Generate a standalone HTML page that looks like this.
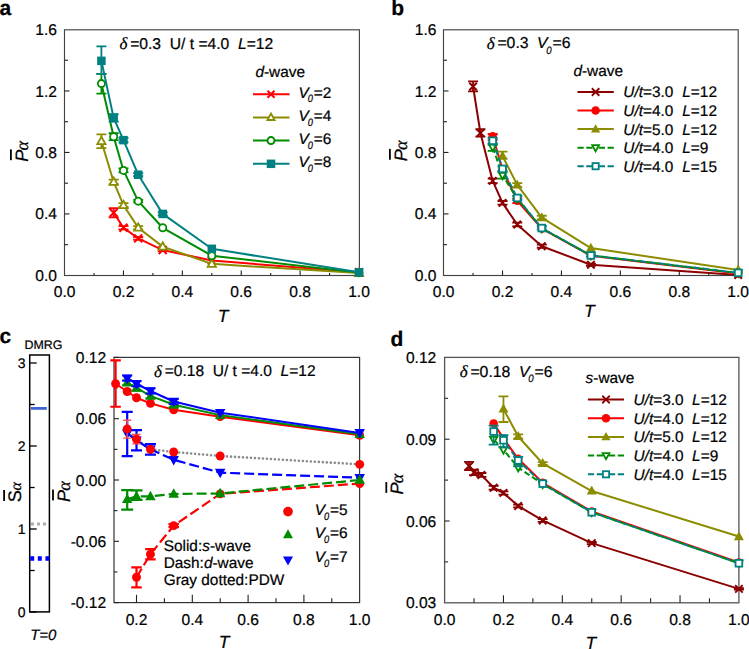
<!DOCTYPE html>
<html><head><meta charset="utf-8"><style>
html,body{margin:0;padding:0;background:#fff;overflow:hidden;}
svg{display:block;font-family:"Liberation Sans", sans-serif;text-rendering:geometricPrecision;}
text{white-space:pre;stroke:#000;stroke-width:0.22px;}
</style></head><body><domain style="display:none">Chart</domain>
<svg width="749" height="649" viewBox="0 0 749 649">
<rect x="64.5" y="29.8" width="294.90" height="245.70" fill="none" stroke="#444" stroke-width="1.15"/><line x1="123.48" y1="275.4" x2="123.48" y2="270.4" stroke="#222" stroke-width="1.1"/><line x1="182.36" y1="275.4" x2="182.36" y2="270.4" stroke="#222" stroke-width="1.1"/><line x1="241.24" y1="275.4" x2="241.24" y2="270.4" stroke="#222" stroke-width="1.1"/><line x1="300.12" y1="275.4" x2="300.12" y2="270.4" stroke="#222" stroke-width="1.1"/><line x1="94.04" y1="275.4" x2="94.04" y2="272.9" stroke="#222" stroke-width="1.1"/><line x1="152.92" y1="275.4" x2="152.92" y2="272.9" stroke="#222" stroke-width="1.1"/><line x1="211.80" y1="275.4" x2="211.80" y2="272.9" stroke="#222" stroke-width="1.1"/><line x1="270.68" y1="275.4" x2="270.68" y2="272.9" stroke="#222" stroke-width="1.1"/><line x1="329.56" y1="275.4" x2="329.56" y2="272.9" stroke="#222" stroke-width="1.1"/><line x1="64.5" y1="213.92" x2="69.5" y2="213.92" stroke="#222" stroke-width="1.1"/><line x1="64.5" y1="152.45" x2="69.5" y2="152.45" stroke="#222" stroke-width="1.1"/><line x1="64.5" y1="90.97" x2="69.5" y2="90.97" stroke="#222" stroke-width="1.1"/><line x1="64.5" y1="244.66" x2="68.0" y2="244.66" stroke="#222" stroke-width="1.1"/><line x1="64.5" y1="183.19" x2="68.0" y2="183.19" stroke="#222" stroke-width="1.1"/><line x1="64.5" y1="121.71" x2="68.0" y2="121.71" stroke="#222" stroke-width="1.1"/><line x1="64.5" y1="60.23" x2="68.0" y2="60.23" stroke="#222" stroke-width="1.1"/><text x="64.6" y="297.2" font-size="15.6" text-anchor="middle">0.0</text><text x="123.5" y="297.2" font-size="15.6" text-anchor="middle">0.2</text><text x="182.4" y="297.2" font-size="15.6" text-anchor="middle">0.4</text><text x="241.2" y="297.2" font-size="15.6" text-anchor="middle">0.6</text><text x="300.1" y="297.2" font-size="15.6" text-anchor="middle">0.8</text><text x="359.0" y="297.2" font-size="15.6" text-anchor="middle">1.0</text><text x="57.0" y="280.9" font-size="15.6" text-anchor="end">0.0</text><text x="57.0" y="219.4" font-size="15.6" text-anchor="end">0.4</text><text x="57.0" y="157.9" font-size="15.6" text-anchor="end">0.8</text><text x="57.0" y="96.5" font-size="15.6" text-anchor="end">1.2</text><text x="57.0" y="35.0" font-size="15.6" text-anchor="end">1.6</text><polyline points="113.67,212.69 123.48,227.76 138.20,238.36 162.73,250.04 211.80,260.49 359.00,272.33" fill="none" stroke="#ff0000" stroke-width="2.0" stroke-linejoin="round"/><path d="M113.67,208.08L113.67,217.31M108.67,208.08L118.67,208.08M108.67,217.31L118.67,217.31" stroke="#ff0000" stroke-width="1.8" fill="none"/><path d="M123.48,226.22L123.48,229.29M118.48,226.22L128.48,226.22M118.48,229.29L128.48,229.29" stroke="#ff0000" stroke-width="1.8" fill="none"/><path d="M138.20,236.98L138.20,239.74M133.20,236.98L143.20,236.98M133.20,239.74L143.20,239.74" stroke="#ff0000" stroke-width="1.8" fill="none"/><path d="M162.73,248.97L162.73,251.12M157.73,248.97L167.73,248.97M157.73,251.12L167.73,251.12" stroke="#ff0000" stroke-width="1.8" fill="none"/><path d="M109.67,208.69L117.67,216.69M109.67,216.69L117.67,208.69" stroke="#ff0000" stroke-width="2" fill="none"/><path d="M119.48,223.76L127.48,231.76M119.48,231.76L127.48,223.76" stroke="#ff0000" stroke-width="2" fill="none"/><path d="M134.20,234.36L142.20,242.36M134.20,242.36L142.20,234.36" stroke="#ff0000" stroke-width="2" fill="none"/><path d="M158.73,246.04L166.73,254.04M158.73,254.04L166.73,246.04" stroke="#ff0000" stroke-width="2" fill="none"/><path d="M207.80,256.49L215.80,264.49M207.80,264.49L215.80,256.49" stroke="#ff0000" stroke-width="2" fill="none"/><path d="M355.00,268.33L363.00,276.33M355.00,276.33L363.00,268.33" stroke="#ff0000" stroke-width="2" fill="none"/><polyline points="101.40,141.23 113.67,181.96 123.48,205.16 138.20,227.76 162.73,246.66 211.80,263.87 359.00,273.09" fill="none" stroke="#8c8c00" stroke-width="2.0" stroke-linejoin="round"/><path d="M101.40,134.31L101.40,148.14M96.40,134.31L106.40,134.31M96.40,148.14L106.40,148.14" stroke="#8c8c00" stroke-width="1.8" fill="none"/><path d="M113.67,179.65L113.67,184.26M108.67,179.65L118.67,179.65M108.67,184.26L118.67,184.26" stroke="#8c8c00" stroke-width="1.8" fill="none"/><path d="M123.48,203.17L123.48,207.01M118.48,203.17L128.48,203.17M118.48,207.01L128.48,207.01" stroke="#8c8c00" stroke-width="1.8" fill="none"/><path d="M138.20,226.22L138.20,229.29M133.20,226.22L143.20,226.22M133.20,229.29L143.20,229.29" stroke="#8c8c00" stroke-width="1.8" fill="none"/><path d="M101.40,136.80 L105.50,144.18 L97.30,144.18Z" fill="#fff" stroke="#8c8c00" stroke-width="1.8"/><path d="M113.67,177.53 L117.77,184.91 L109.57,184.91Z" fill="#fff" stroke="#8c8c00" stroke-width="1.8"/><path d="M123.48,200.74 L127.58,208.12 L119.38,208.12Z" fill="#fff" stroke="#8c8c00" stroke-width="1.8"/><path d="M138.20,223.33 L142.30,230.71 L134.10,230.71Z" fill="#fff" stroke="#8c8c00" stroke-width="1.8"/><path d="M162.73,242.23 L166.83,249.61 L158.63,249.61Z" fill="#fff" stroke="#8c8c00" stroke-width="1.8"/><path d="M211.80,259.45 L215.90,266.83 L207.70,266.83Z" fill="#fff" stroke="#8c8c00" stroke-width="1.8"/><path d="M359.00,268.67 L363.10,276.05 L354.90,276.05Z" fill="#fff" stroke="#8c8c00" stroke-width="1.8"/><polyline points="101.40,83.59 113.67,136.77 123.48,170.43 138.20,201.17 162.73,227.76 211.80,255.73 359.00,272.63" fill="none" stroke="#008c00" stroke-width="2.0" stroke-linejoin="round"/><path d="M101.40,73.91L101.40,93.58M96.40,73.91L106.40,73.91M96.40,93.58L106.40,93.58" stroke="#008c00" stroke-width="1.8" fill="none"/><path d="M113.67,133.24L113.67,140.15M108.67,133.24L118.67,133.24M108.67,140.15L118.67,140.15" stroke="#008c00" stroke-width="1.8" fill="none"/><path d="M123.48,168.28L123.48,172.43M118.48,168.28L128.48,168.28M118.48,172.43L128.48,172.43" stroke="#008c00" stroke-width="1.8" fill="none"/><path d="M138.20,199.78L138.20,202.40M133.20,199.78L143.20,199.78M133.20,202.40L143.20,202.40" stroke="#008c00" stroke-width="1.8" fill="none"/><circle cx="101.40" cy="83.59" r="3.60" fill="#fff" stroke="#008c00" stroke-width="1.8"/><circle cx="113.67" cy="136.77" r="3.60" fill="#fff" stroke="#008c00" stroke-width="1.8"/><circle cx="123.48" cy="170.43" r="3.60" fill="#fff" stroke="#008c00" stroke-width="1.8"/><circle cx="138.20" cy="201.17" r="3.60" fill="#fff" stroke="#008c00" stroke-width="1.8"/><circle cx="162.73" cy="227.76" r="3.60" fill="#fff" stroke="#008c00" stroke-width="1.8"/><circle cx="211.80" cy="255.73" r="3.60" fill="#fff" stroke="#008c00" stroke-width="1.8"/><circle cx="359.00" cy="272.63" r="3.60" fill="#fff" stroke="#008c00" stroke-width="1.8"/><polyline points="101.40,60.85 113.67,117.87 123.48,140.15 138.20,174.73 162.73,213.92 211.80,248.81 359.00,272.33" fill="none" stroke="#008080" stroke-width="2.0" stroke-linejoin="round"/><path d="M101.40,46.40L101.40,73.91M96.40,46.40L106.40,46.40M96.40,73.91L106.40,73.91" stroke="#008080" stroke-width="1.8" fill="none"/><path d="M113.67,114.03L113.67,121.71M108.67,114.03L118.67,114.03M108.67,121.71L118.67,121.71" stroke="#008080" stroke-width="1.8" fill="none"/><path d="M123.48,137.85L123.48,142.46M118.48,137.85L128.48,137.85M118.48,142.46L128.48,142.46" stroke="#008080" stroke-width="1.8" fill="none"/><path d="M138.20,173.20L138.20,176.27M133.20,173.20L143.20,173.20M133.20,176.27L143.20,176.27" stroke="#008080" stroke-width="1.8" fill="none"/><path d="M162.73,212.39L162.73,215.46M157.73,212.39L167.73,212.39M157.73,215.46L167.73,215.46" stroke="#008080" stroke-width="1.8" fill="none"/><rect x="97.15" y="56.60" width="8.50" height="8.50" fill="#008080"/><rect x="109.42" y="113.62" width="8.50" height="8.50" fill="#008080"/><rect x="119.23" y="135.90" width="8.50" height="8.50" fill="#008080"/><rect x="133.95" y="170.48" width="8.50" height="8.50" fill="#008080"/><rect x="158.48" y="209.67" width="8.50" height="8.50" fill="#008080"/><rect x="207.55" y="244.56" width="8.50" height="8.50" fill="#008080"/><rect x="354.75" y="268.08" width="8.50" height="8.50" fill="#008080"/><text x="119.5" y="48.6" font-size="15.65"><tspan font-family="Liberation Serif" font-style="italic" font-size="17" dy="0.5">δ</tspan><tspan font-size="10" dy="-0.5"> </tspan>=0.3  U/ t =4.0  <tspan font-style="italic">L</tspan>=12</text><text x="255.4" y="76.8" font-size="15.4" text-anchor="start"><tspan font-style="italic">d</tspan>-wave</text><line x1="253" y1="94.2" x2="289.5" y2="94.2" stroke="#ff0000" stroke-width="2"/><path d="M267.50,90.70L274.50,97.70M267.50,97.70L274.50,90.70" stroke="#ff0000" stroke-width="2" fill="none"/><text x="298.4" y="97.5" font-size="15.4" font-style="italic">V</text><text transform="translate(307.70,102.30) scale(0.85,1)" font-size="10.9" font-style="italic">0</text><text x="313.7" y="97.5" font-size="15.4">=2</text><line x1="253" y1="117.4" x2="289.5" y2="117.4" stroke="#8c8c00" stroke-width="2"/><path d="M271.00,113.51 L274.60,119.99 L267.40,119.99Z" fill="#fff" stroke="#8c8c00" stroke-width="1.8"/><text x="298.4" y="120.7" font-size="15.4" font-style="italic">V</text><text transform="translate(307.70,125.50) scale(0.85,1)" font-size="10.9" font-style="italic">0</text><text x="313.7" y="120.7" font-size="15.4">=4</text><line x1="253" y1="140.6" x2="289.5" y2="140.6" stroke="#008c00" stroke-width="2"/><circle cx="271.00" cy="140.60" r="3.50" fill="#fff" stroke="#008c00" stroke-width="2"/><text x="298.4" y="143.9" font-size="15.4" font-style="italic">V</text><text transform="translate(307.70,148.70) scale(0.85,1)" font-size="10.9" font-style="italic">0</text><text x="313.7" y="143.9" font-size="15.4">=6</text><line x1="253" y1="163.8" x2="289.5" y2="163.8" stroke="#008080" stroke-width="2"/><rect x="266.75" y="159.55" width="8.50" height="8.50" fill="#008080"/><text x="298.4" y="167.1" font-size="15.4" font-style="italic">V</text><text transform="translate(307.70,171.90) scale(0.85,1)" font-size="10.9" font-style="italic">0</text><text x="313.7" y="167.1" font-size="15.4">=8</text><g transform="translate(28.0,161.8) rotate(-90)"><text x="0" y="0" font-size="18"><tspan font-style="italic">P</tspan><tspan font-family="Liberation Serif" font-style="italic" font-size="18" dx="-0.8">α</tspan></text></g><rect x="10.0" y="149.4" width="1.8" height="10.8" fill="#000"/><text x="217.8" y="321.5" font-size="17.5" text-anchor="start" font-style="italic">T</text><text x="-0.5" y="15.0" font-size="21" text-anchor="start" font-weight="bold">a</text><rect x="443.5" y="29.8" width="294.70" height="245.70" fill="none" stroke="#444" stroke-width="1.15"/><line x1="502.52" y1="275.4" x2="502.52" y2="270.4" stroke="#222" stroke-width="1.1"/><line x1="561.44" y1="275.4" x2="561.44" y2="270.4" stroke="#222" stroke-width="1.1"/><line x1="620.36" y1="275.4" x2="620.36" y2="270.4" stroke="#222" stroke-width="1.1"/><line x1="679.28" y1="275.4" x2="679.28" y2="270.4" stroke="#222" stroke-width="1.1"/><line x1="473.06" y1="275.4" x2="473.06" y2="272.9" stroke="#222" stroke-width="1.1"/><line x1="531.98" y1="275.4" x2="531.98" y2="272.9" stroke="#222" stroke-width="1.1"/><line x1="590.90" y1="275.4" x2="590.90" y2="272.9" stroke="#222" stroke-width="1.1"/><line x1="649.82" y1="275.4" x2="649.82" y2="272.9" stroke="#222" stroke-width="1.1"/><line x1="708.74" y1="275.4" x2="708.74" y2="272.9" stroke="#222" stroke-width="1.1"/><line x1="443.5" y1="213.92" x2="448.5" y2="213.92" stroke="#222" stroke-width="1.1"/><line x1="443.5" y1="152.45" x2="448.5" y2="152.45" stroke="#222" stroke-width="1.1"/><line x1="443.5" y1="90.97" x2="448.5" y2="90.97" stroke="#222" stroke-width="1.1"/><line x1="443.5" y1="244.66" x2="447.0" y2="244.66" stroke="#222" stroke-width="1.1"/><line x1="443.5" y1="183.19" x2="447.0" y2="183.19" stroke="#222" stroke-width="1.1"/><line x1="443.5" y1="121.71" x2="447.0" y2="121.71" stroke="#222" stroke-width="1.1"/><line x1="443.5" y1="60.23" x2="447.0" y2="60.23" stroke="#222" stroke-width="1.1"/><text x="443.6" y="297.2" font-size="15.6" text-anchor="middle">0.0</text><text x="502.5" y="297.2" font-size="15.6" text-anchor="middle">0.2</text><text x="561.4" y="297.2" font-size="15.6" text-anchor="middle">0.4</text><text x="620.4" y="297.2" font-size="15.6" text-anchor="middle">0.6</text><text x="679.3" y="297.2" font-size="15.6" text-anchor="middle">0.8</text><text x="738.2" y="297.2" font-size="15.6" text-anchor="middle">1.0</text><text x="436.5" y="280.9" font-size="15.6" text-anchor="end">0.0</text><text x="436.5" y="219.4" font-size="15.6" text-anchor="end">0.4</text><text x="436.5" y="157.9" font-size="15.6" text-anchor="end">0.8</text><text x="436.5" y="96.5" font-size="15.6" text-anchor="end">1.2</text><text x="436.5" y="35.0" font-size="15.6" text-anchor="end">1.6</text><polyline points="473.06,86.51 480.43,132.93 492.70,180.88 502.52,202.86 517.25,224.53 541.80,246.20 590.90,264.80 738.20,274.94" fill="none" stroke="#8b0000" stroke-width="2.0" stroke-linejoin="round"/><path d="M473.06,81.44L473.06,91.28M468.06,81.44L478.06,81.44M468.06,91.28L478.06,91.28" stroke="#8b0000" stroke-width="1.8" fill="none"/><path d="M480.43,129.24L480.43,136.62M475.43,129.24L485.43,129.24M475.43,136.62L485.43,136.62" stroke="#8b0000" stroke-width="1.8" fill="none"/><path d="M492.70,178.58L492.70,183.19M487.70,178.58L497.70,178.58M487.70,183.19L497.70,183.19" stroke="#8b0000" stroke-width="1.8" fill="none"/><path d="M502.52,201.01L502.52,204.70M497.52,201.01L507.52,201.01M497.52,204.70L507.52,204.70" stroke="#8b0000" stroke-width="1.8" fill="none"/><path d="M517.25,222.68L517.25,226.37M512.25,222.68L522.25,222.68M512.25,226.37L522.25,226.37" stroke="#8b0000" stroke-width="1.8" fill="none"/><path d="M541.80,244.66L541.80,247.74M536.80,244.66L546.80,244.66M536.80,247.74L546.80,247.74" stroke="#8b0000" stroke-width="1.8" fill="none"/><path d="M590.90,263.72L590.90,265.87M585.90,263.72L595.90,263.72M585.90,265.87L595.90,265.87" stroke="#8b0000" stroke-width="1.8" fill="none"/><path d="M469.31,82.76L476.81,90.26M469.31,90.26L476.81,82.76" stroke="#8b0000" stroke-width="2" fill="none"/><path d="M476.68,129.18L484.18,136.68M476.68,136.68L484.18,129.18" stroke="#8b0000" stroke-width="2" fill="none"/><path d="M488.95,177.13L496.45,184.63M488.95,184.63L496.45,177.13" stroke="#8b0000" stroke-width="2" fill="none"/><path d="M498.77,199.11L506.27,206.61M498.77,206.61L506.27,199.11" stroke="#8b0000" stroke-width="2" fill="none"/><path d="M513.50,220.78L521.00,228.28M513.50,228.28L521.00,220.78" stroke="#8b0000" stroke-width="2" fill="none"/><path d="M538.05,242.45L545.55,249.95M538.05,249.95L545.55,242.45" stroke="#8b0000" stroke-width="2" fill="none"/><path d="M587.15,261.05L594.65,268.55M587.15,268.55L594.65,261.05" stroke="#8b0000" stroke-width="2" fill="none"/><path d="M734.45,271.19L741.95,278.69M734.45,278.69L741.95,271.19" stroke="#8b0000" stroke-width="2" fill="none"/><polyline points="492.70,136.31 502.52,169.35 517.25,200.86 541.80,228.52 590.90,255.73 738.20,273.56" fill="none" stroke="#ff0000" stroke-width="2.0" stroke-linejoin="round"/><path d="M492.70,134.01L492.70,140.15M487.70,134.01L497.70,134.01M487.70,140.15L497.70,140.15" stroke="#ff0000" stroke-width="1.8" fill="none"/><path d="M517.25,198.55L517.25,203.17M512.25,198.55L522.25,198.55M512.25,203.17L522.25,203.17" stroke="#ff0000" stroke-width="1.8" fill="none"/><circle cx="492.70" cy="136.31" r="4.25" fill="#ff0000"/><circle cx="502.52" cy="169.35" r="4.25" fill="#ff0000"/><circle cx="517.25" cy="200.86" r="4.25" fill="#ff0000"/><circle cx="541.80" cy="228.52" r="4.25" fill="#ff0000"/><circle cx="590.90" cy="255.73" r="4.25" fill="#ff0000"/><circle cx="738.20" cy="273.56" r="4.25" fill="#ff0000"/><polyline points="502.52,155.98 517.25,184.88 541.80,217.61 590.90,248.04 738.20,270.02" fill="none" stroke="#8c8c00" stroke-width="2.0" stroke-linejoin="round"/><path d="M502.52,151.68L502.52,158.60M497.52,151.68L507.52,151.68M497.52,158.60L507.52,158.60" stroke="#8c8c00" stroke-width="1.8" fill="none"/><path d="M517.25,183.19L517.25,187.03M512.25,183.19L522.25,183.19M512.25,187.03L522.25,187.03" stroke="#8c8c00" stroke-width="1.8" fill="none"/><path d="M541.80,215.77L541.80,219.30M536.80,215.77L546.80,215.77M536.80,219.30L546.80,219.30" stroke="#8c8c00" stroke-width="1.8" fill="none"/><path d="M502.52,150.58 L507.52,159.58 L497.52,159.58Z" fill="#8c8c00"/><path d="M517.25,179.48 L522.25,188.48 L512.25,188.48Z" fill="#8c8c00"/><path d="M541.80,212.21 L546.80,221.21 L536.80,221.21Z" fill="#8c8c00"/><path d="M590.90,242.64 L595.90,251.64 L585.90,251.64Z" fill="#8c8c00"/><path d="M738.20,264.62 L743.20,273.62 L733.20,273.62Z" fill="#8c8c00"/><polyline points="492.70,147.22 502.52,175.35 517.25,198.55 541.80,228.52 590.90,255.42 738.20,273.09" fill="none" stroke="#008c00" stroke-width="2.0" stroke-linejoin="round" stroke-dasharray="6,3"/><path d="M492.70,144.76L492.70,150.91M487.70,144.76L497.70,144.76M487.70,150.91L497.70,150.91" stroke="#008c00" stroke-width="1.8" fill="none"/><path d="M502.52,172.43L502.52,178.58M497.52,172.43L507.52,172.43M497.52,178.58L507.52,178.58" stroke="#008c00" stroke-width="1.8" fill="none"/><path d="M492.70,151.11 L496.30,144.63 L489.10,144.63Z" fill="#fff" stroke="#008c00" stroke-width="1.8"/><path d="M502.52,179.24 L506.12,172.76 L498.92,172.76Z" fill="#fff" stroke="#008c00" stroke-width="1.8"/><path d="M517.25,202.44 L520.85,195.96 L513.65,195.96Z" fill="#fff" stroke="#008c00" stroke-width="1.8"/><path d="M541.80,232.41 L545.40,225.93 L538.20,225.93Z" fill="#fff" stroke="#008c00" stroke-width="1.8"/><path d="M590.90,259.31 L594.50,252.83 L587.30,252.83Z" fill="#fff" stroke="#008c00" stroke-width="1.8"/><path d="M738.20,276.98 L741.80,270.50 L734.60,270.50Z" fill="#fff" stroke="#008c00" stroke-width="1.8"/><polyline points="492.70,140.77 502.52,168.89 517.25,197.94 541.80,228.06 590.90,255.42 738.20,272.79" fill="none" stroke="#008080" stroke-width="2.0" stroke-linejoin="round" stroke-dasharray="6,3"/><path d="M492.70,137.85L492.70,143.23M487.70,137.85L497.70,137.85M487.70,143.23L497.70,143.23" stroke="#008080" stroke-width="1.8" fill="none"/><path d="M502.52,166.28L502.52,170.89M497.52,166.28L507.52,166.28M497.52,170.89L507.52,170.89" stroke="#008080" stroke-width="1.8" fill="none"/><path d="M517.25,196.25L517.25,200.09M512.25,196.25L522.25,196.25M512.25,200.09L522.25,200.09" stroke="#008080" stroke-width="1.8" fill="none"/><path d="M541.80,226.53L541.80,229.60M536.80,226.53L546.80,226.53M536.80,229.60L546.80,229.60" stroke="#008080" stroke-width="1.8" fill="none"/><path d="M590.90,254.19L590.90,256.65M585.90,254.19L595.90,254.19M585.90,256.65L595.90,256.65" stroke="#008080" stroke-width="1.8" fill="none"/><rect x="489.35" y="137.42" width="6.70" height="6.70" fill="#fff" stroke="#008080" stroke-width="1.8"/><rect x="499.17" y="165.54" width="6.70" height="6.70" fill="#fff" stroke="#008080" stroke-width="1.8"/><rect x="513.90" y="194.59" width="6.70" height="6.70" fill="#fff" stroke="#008080" stroke-width="1.8"/><rect x="538.45" y="224.71" width="6.70" height="6.70" fill="#fff" stroke="#008080" stroke-width="1.8"/><rect x="587.55" y="252.07" width="6.70" height="6.70" fill="#fff" stroke="#008080" stroke-width="1.8"/><rect x="734.85" y="269.44" width="6.70" height="6.70" fill="#fff" stroke="#008080" stroke-width="1.8"/><text x="486.7" y="48.4" font-size="15.8"><tspan font-family="Liberation Serif" font-style="italic" font-size="17" dy="0.5">δ</tspan><tspan font-size="10" dy="-0.5"> </tspan>=0.3</text><text x="537.0" y="48.4" font-size="15.8" font-style="italic">V</text><text transform="translate(546.30,53.60) scale(0.9,1)" font-size="10.7" font-style="italic">0</text><text x="552.6" y="48.4" font-size="15.8">=6</text><text x="573.4" y="76.1" font-size="15.4" text-anchor="start"><tspan font-style="italic">d</tspan>-wave</text><line x1="577.5" y1="92.0" x2="613.8" y2="92.0" stroke="#8b0000" stroke-width="2"/><path d="M591.85,88.25L599.35,95.75M591.85,95.75L599.35,88.25" stroke="#8b0000" stroke-width="1.8" fill="none"/><text x="623.3" y="97.4" font-size="15.4"><tspan font-style="italic">U/t</tspan>=3.0</text><text x="682.3" y="97.4" font-size="15.4"><tspan font-style="italic">L</tspan>=12</text><line x1="577.5" y1="110.5" x2="613.8" y2="110.5" stroke="#ff0000" stroke-width="2"/><circle cx="595.60" cy="110.55" r="4.30" fill="#ff0000"/><text x="623.3" y="116.0" font-size="15.4"><tspan font-style="italic">U/t</tspan>=4.0</text><text x="682.3" y="116.0" font-size="15.4"><tspan font-style="italic">L</tspan>=12</text><line x1="577.5" y1="129.1" x2="613.8" y2="129.1" stroke="#8c8c00" stroke-width="2"/><path d="M595.60,124.13 L600.20,132.41 L591.00,132.41Z" fill="#8c8c00"/><text x="623.3" y="134.5" font-size="15.4"><tspan font-style="italic">U/t</tspan>=5.0</text><text x="682.3" y="134.5" font-size="15.4"><tspan font-style="italic">L</tspan>=12</text><line x1="577.5" y1="147.7" x2="595.6" y2="147.7" stroke="#008c00" stroke-width="2" stroke-dasharray="6.2,2.6"/><line x1="613.8" y1="147.7" x2="595.6" y2="147.7" stroke="#008c00" stroke-width="2" stroke-dasharray="6.2,2.6"/><path d="M595.60,151.32 L599.00,145.20 L592.20,145.20Z" fill="#fff" stroke="#008c00" stroke-width="1.8"/><text x="623.3" y="153.1" font-size="15.4"><tspan font-style="italic">U/t</tspan>=4.0</text><text x="682.3" y="153.1" font-size="15.4"><tspan font-style="italic">L</tspan>=9</text><line x1="577.5" y1="166.2" x2="595.6" y2="166.2" stroke="#008080" stroke-width="2" stroke-dasharray="6.2,2.6"/><line x1="613.8" y1="166.2" x2="595.6" y2="166.2" stroke="#008080" stroke-width="2" stroke-dasharray="6.2,2.6"/><rect x="592.50" y="163.10" width="6.20" height="6.20" fill="#fff" stroke="#008080" stroke-width="1.8"/><text x="623.3" y="171.6" font-size="15.4"><tspan font-style="italic">U/t</tspan>=4.0</text><text x="682.3" y="171.6" font-size="15.4"><tspan font-style="italic">L</tspan>=15</text><g transform="translate(407.0,161.3) rotate(-90)"><text x="0" y="0" font-size="18"><tspan font-style="italic">P</tspan><tspan font-family="Liberation Serif" font-style="italic" font-size="18" dx="-0.8">α</tspan></text></g><rect x="389.0" y="148.9" width="1.8" height="10.8" fill="#000"/><text x="584.0" y="317.4" font-size="17.5" text-anchor="start" font-style="italic">T</text><text x="391.2" y="15.0" font-size="21" text-anchor="start" font-weight="bold">b</text><rect x="114.0" y="357.4" width="245.60" height="245.20" fill="none" stroke="#333" stroke-width="1.2"/><line x1="136.50" y1="602.6" x2="136.50" y2="594.8000000000001" stroke="#222" stroke-width="1.1"/><line x1="192.30" y1="602.6" x2="192.30" y2="594.8000000000001" stroke="#222" stroke-width="1.1"/><line x1="248.10" y1="602.6" x2="248.10" y2="594.8000000000001" stroke="#222" stroke-width="1.1"/><line x1="303.90" y1="602.6" x2="303.90" y2="594.8000000000001" stroke="#222" stroke-width="1.1"/><line x1="164.40" y1="602.6" x2="164.40" y2="598.3000000000001" stroke="#222" stroke-width="1.1"/><line x1="220.20" y1="602.6" x2="220.20" y2="598.3000000000001" stroke="#222" stroke-width="1.1"/><line x1="276.00" y1="602.6" x2="276.00" y2="598.3000000000001" stroke="#222" stroke-width="1.1"/><line x1="331.80" y1="602.6" x2="331.80" y2="598.3000000000001" stroke="#222" stroke-width="1.1"/><line x1="114.0" y1="602.60" x2="119.0" y2="602.60" stroke="#222" stroke-width="1.1"/><line x1="114.0" y1="541.30" x2="119.0" y2="541.30" stroke="#222" stroke-width="1.1"/><line x1="114.0" y1="480.00" x2="119.0" y2="480.00" stroke="#222" stroke-width="1.1"/><line x1="114.0" y1="418.70" x2="119.0" y2="418.70" stroke="#222" stroke-width="1.1"/><line x1="114.0" y1="357.40" x2="119.0" y2="357.40" stroke="#222" stroke-width="1.1"/><line x1="114.0" y1="571.95" x2="117.5" y2="571.95" stroke="#222" stroke-width="1.1"/><line x1="114.0" y1="510.65" x2="117.5" y2="510.65" stroke="#222" stroke-width="1.1"/><line x1="114.0" y1="449.35" x2="117.5" y2="449.35" stroke="#222" stroke-width="1.1"/><line x1="114.0" y1="388.05" x2="117.5" y2="388.05" stroke="#222" stroke-width="1.1"/><text x="136.5" y="624.8" font-size="15.6" text-anchor="middle">0.2</text><text x="192.3" y="624.8" font-size="15.6" text-anchor="middle">0.4</text><text x="248.1" y="624.8" font-size="15.6" text-anchor="middle">0.6</text><text x="303.9" y="624.8" font-size="15.6" text-anchor="middle">0.8</text><text x="359.7" y="624.8" font-size="15.6" text-anchor="middle">1.0</text><text x="106.2" y="608.1" font-size="15.6" text-anchor="end">-0.12</text><text x="106.2" y="546.8" font-size="15.6" text-anchor="end">-0.06</text><text x="106.2" y="485.5" font-size="15.6" text-anchor="end">0.00</text><text x="106.2" y="424.2" font-size="15.6" text-anchor="end">0.06</text><text x="106.2" y="362.9" font-size="15.6" text-anchor="end">0.12</text><polyline points="115.58,383.76 127.20,391.52 136.50,397.75 150.45,403.37 173.70,409.81 220.20,416.65 359.70,435.35" fill="none" stroke="#ff0000" stroke-width="2.0" stroke-linejoin="round"/><path d="M115.58,360.46L115.58,406.74M110.33,360.46L120.83,360.46M110.33,406.74L120.83,406.74" stroke="#ff0000" stroke-width="2.2" fill="none"/><circle cx="115.58" cy="383.76" r="4.45" fill="#ff0000"/><circle cx="127.20" cy="391.52" r="4.45" fill="#ff0000"/><circle cx="136.50" cy="397.75" r="4.45" fill="#ff0000"/><circle cx="150.45" cy="403.37" r="4.45" fill="#ff0000"/><circle cx="173.70" cy="409.81" r="4.45" fill="#ff0000"/><circle cx="220.20" cy="416.65" r="4.45" fill="#ff0000"/><circle cx="359.70" cy="435.35" r="4.45" fill="#ff0000"/><polyline points="127.20,382.63 136.50,387.94 150.45,395.91 173.70,404.70 220.20,415.12 359.70,434.33" fill="none" stroke="#008c00" stroke-width="2.0" stroke-linejoin="round"/><path d="M127.20,380.08L127.20,385.19M122.20,380.08L132.20,380.08M122.20,385.19L132.20,385.19" stroke="#008c00" stroke-width="1.8" fill="none"/><path d="M136.50,385.39L136.50,390.50M131.50,385.39L141.50,385.39M131.50,390.50L141.50,390.50" stroke="#008c00" stroke-width="1.8" fill="none"/><path d="M150.45,393.36L150.45,398.47M145.45,393.36L155.45,393.36M145.45,398.47L155.45,398.47" stroke="#008c00" stroke-width="1.8" fill="none"/><path d="M173.70,402.15L173.70,407.25M168.70,402.15L178.70,402.15M168.70,407.25L178.70,407.25" stroke="#008c00" stroke-width="1.8" fill="none"/><path d="M127.20,376.96 L132.45,386.41 L121.95,386.41Z" fill="#008c00"/><path d="M136.50,382.27 L141.75,391.72 L131.25,391.72Z" fill="#008c00"/><path d="M150.45,390.24 L155.70,399.69 L145.20,399.69Z" fill="#008c00"/><path d="M173.70,399.03 L178.95,408.48 L168.45,408.48Z" fill="#008c00"/><path d="M220.20,409.45 L225.45,418.90 L214.95,418.90Z" fill="#008c00"/><path d="M359.70,428.66 L364.95,438.11 L354.45,438.11Z" fill="#008c00"/><polyline points="127.20,378.24 136.50,383.76 150.45,391.01 173.70,401.53 220.20,412.67 359.70,432.90" fill="none" stroke="#0000ff" stroke-width="2.0" stroke-linejoin="round"/><path d="M127.20,375.68L127.20,380.79M122.20,375.68L132.20,375.68M122.20,380.79L132.20,380.79" stroke="#0000ff" stroke-width="1.8" fill="none"/><path d="M136.50,381.20L136.50,386.31M131.50,381.20L141.50,381.20M131.50,386.31L141.50,386.31" stroke="#0000ff" stroke-width="1.8" fill="none"/><path d="M150.45,388.46L150.45,393.56M145.45,388.46L155.45,388.46M145.45,393.56L155.45,393.56" stroke="#0000ff" stroke-width="1.8" fill="none"/><path d="M173.70,398.98L173.70,404.09M168.70,398.98L178.70,398.98M168.70,404.09L178.70,404.09" stroke="#0000ff" stroke-width="1.8" fill="none"/><path d="M127.20,383.91 L132.45,374.46 L121.95,374.46Z" fill="#0000ff"/><path d="M136.50,389.43 L141.75,379.98 L131.25,379.98Z" fill="#0000ff"/><path d="M150.45,396.68 L155.70,387.23 L145.20,387.23Z" fill="#0000ff"/><path d="M173.70,407.20 L178.95,397.75 L168.45,397.75Z" fill="#0000ff"/><path d="M220.20,418.34 L225.45,408.89 L214.95,408.89Z" fill="#0000ff"/><path d="M359.70,438.57 L364.95,429.12 L354.45,429.12Z" fill="#0000ff"/><polyline points="127.20,428.91 136.50,439.13 150.45,449.35 173.70,452.01 220.20,455.99 359.70,464.37" fill="none" stroke="#8c8c8c" stroke-width="2.6" stroke-linejoin="round" stroke-dasharray="0,4" stroke-linecap="round"/><polyline points="127.20,433.21 136.50,440.36 150.45,449.35 173.70,459.77 220.20,472.64 359.70,477.75" fill="none" stroke="#0000ff" stroke-width="2.2" stroke-linejoin="round" stroke-dasharray="10,4"/><path d="M127.20,411.85L127.20,456.19M121.70,411.85L132.70,411.85M121.70,456.19L132.70,456.19" stroke="#0000ff" stroke-width="2.2" fill="none"/><path d="M136.50,430.14L136.50,450.37M131.00,430.14L142.00,430.14M131.00,450.37L142.00,450.37" stroke="#0000ff" stroke-width="2.2" fill="none"/><path d="M150.45,444.14L150.45,454.56M144.95,444.14L155.95,444.14M144.95,454.56L155.95,454.56" stroke="#0000ff" stroke-width="2.2" fill="none"/><path d="M127.20,438.88 L132.45,429.43 L121.95,429.43Z" fill="#0000ff"/><path d="M136.50,446.03 L141.75,436.58 L131.25,436.58Z" fill="#0000ff"/><path d="M150.45,455.02 L155.70,445.57 L145.20,445.57Z" fill="#0000ff"/><path d="M173.70,465.44 L178.95,455.99 L168.45,455.99Z" fill="#0000ff"/><path d="M220.20,478.31 L225.45,468.86 L214.95,468.86Z" fill="#0000ff"/><path d="M359.70,483.42 L364.95,473.97 L354.45,473.97Z" fill="#0000ff"/><polyline points="136.50,577.27 150.45,554.18 173.70,525.67 220.20,493.90 359.70,483.58" fill="none" stroke="#ff0000" stroke-width="2.2" stroke-linejoin="round" stroke-dasharray="10,4"/><path d="M136.50,567.36L136.50,587.28M131.25,567.36L141.75,567.36M131.25,587.28L141.75,587.28" stroke="#ff0000" stroke-width="2.2" fill="none"/><path d="M150.45,549.07L150.45,559.28M145.20,549.07L155.70,549.07M145.20,559.28L155.70,559.28" stroke="#ff0000" stroke-width="2.2" fill="none"/><path d="M173.70,524.14L173.70,527.20M168.45,524.14L178.95,524.14M168.45,527.20L178.95,527.20" stroke="#ff0000" stroke-width="2.2" fill="none"/><circle cx="136.50" cy="577.27" r="4.45" fill="#ff0000"/><circle cx="150.45" cy="554.18" r="4.45" fill="#ff0000"/><circle cx="173.70" cy="525.67" r="4.45" fill="#ff0000"/><circle cx="220.20" cy="493.90" r="4.45" fill="#ff0000"/><circle cx="359.70" cy="483.58" r="4.45" fill="#ff0000"/><polyline points="127.20,499.31 136.50,496.35 150.45,496.35 173.70,493.90 220.20,493.49 359.70,480.00" fill="none" stroke="#008c00" stroke-width="2.2" stroke-linejoin="round" stroke-dasharray="10,4"/><path d="M127.20,490.22L127.20,509.63M121.20,490.22L133.20,490.22M121.20,509.63L133.20,509.63" stroke="#008c00" stroke-width="2.2" fill="none"/><path d="M136.50,490.42L136.50,499.92M130.50,490.42L142.50,490.42M130.50,499.92L142.50,499.92" stroke="#008c00" stroke-width="2.2" fill="none"/><path d="M127.20,493.64 L132.45,503.09 L121.95,503.09Z" fill="#008c00"/><path d="M136.50,490.68 L141.75,500.13 L131.25,500.13Z" fill="#008c00"/><path d="M150.45,490.68 L155.70,500.13 L145.20,500.13Z" fill="#008c00"/><path d="M173.70,488.23 L178.95,497.68 L168.45,497.68Z" fill="#008c00"/><path d="M220.20,487.82 L225.45,497.27 L214.95,497.27Z" fill="#008c00"/><path d="M359.70,474.33 L364.95,483.78 L354.45,483.78Z" fill="#008c00"/><path d="M127.20,420.23L127.20,438.11M123.20,420.23L131.20,420.23M123.20,438.11L131.20,438.11" stroke="#ff5050" stroke-width="1.4" fill="none"/><path d="M136.50,434.53L136.50,443.73M132.50,434.53L140.50,434.53M132.50,443.73L140.50,443.73" stroke="#ff5050" stroke-width="1.4" fill="none"/><circle cx="127.20" cy="428.91" r="4.45" fill="#ff0000"/><circle cx="136.50" cy="439.13" r="4.45" fill="#ff0000"/><circle cx="150.45" cy="449.35" r="4.45" fill="#ff0000"/><circle cx="173.70" cy="452.01" r="4.45" fill="#ff0000"/><circle cx="220.20" cy="455.99" r="4.45" fill="#ff0000"/><circle cx="359.70" cy="464.37" r="4.45" fill="#ff0000"/><text x="154.1" y="376.3" font-size="15.55"><tspan font-family="Liberation Serif" font-style="italic" font-size="17" dy="0.5">δ</tspan><tspan font-size="10" dy="-0.5"> </tspan>=0.18  U/ t =4.0  <tspan font-style="italic">L</tspan>=12</text><text x="163.7" y="551.0" font-size="15.4" text-anchor="start">Solid:<tspan font-style="italic">s</tspan>-wave</text><text x="163.7" y="567.9" font-size="15.4" text-anchor="start">Dash:<tspan font-style="italic">d</tspan>-wave</text><text x="163.7" y="584.8" font-size="15.4" text-anchor="start">Gray dotted:PDW</text><circle cx="288.00" cy="511.60" r="4.85" fill="#ff0000"/><path d="M288.00,529.30 L293.00,538.30 L283.00,538.30Z" fill="#008c00"/><path d="M288.00,565.40 L293.00,556.40 L283.00,556.40Z" fill="#0000ff"/><text x="314.8" y="514.7" font-size="15.4" font-style="italic">V</text><text transform="translate(324.10,519.50) scale(0.85,1)" font-size="10.9" font-style="italic">0</text><text x="330.1" y="514.7" font-size="15.4">=5</text><text x="314.8" y="538.3" font-size="15.4" font-style="italic">V</text><text transform="translate(324.10,543.10) scale(0.85,1)" font-size="10.9" font-style="italic">0</text><text x="330.1" y="538.3" font-size="15.4">=6</text><text x="314.8" y="562.1" font-size="15.4" font-style="italic">V</text><text transform="translate(324.10,566.90) scale(0.85,1)" font-size="10.9" font-style="italic">0</text><text x="330.1" y="562.1" font-size="15.4">=7</text><g transform="translate(70.1,502.0) rotate(-90)"><text x="0" y="0" font-size="18"><tspan font-style="italic">P</tspan><tspan font-family="Liberation Serif" font-style="italic" font-size="18" dx="-0.8">α</tspan></text></g><rect x="52.1" y="489.6" width="1.8" height="10.8" fill="#000"/><text x="218.8" y="647.7" font-size="17.5" text-anchor="start" font-style="italic">T</text><text x="-0.5" y="342.6" font-size="21" text-anchor="start" font-weight="bold">c</text><rect x="29.7" y="355.0" width="19.70" height="256.90" fill="none" stroke="#000" stroke-width="1.5"/><line x1="29.7" y1="612.00" x2="36.7" y2="612.00" stroke="#000" stroke-width="1.3"/><line x1="29.7" y1="529.00" x2="36.7" y2="529.00" stroke="#000" stroke-width="1.3"/><line x1="29.7" y1="446.00" x2="36.7" y2="446.00" stroke="#000" stroke-width="1.3"/><line x1="29.7" y1="363.00" x2="36.7" y2="363.00" stroke="#000" stroke-width="1.3"/><line x1="29.7" y1="570.50" x2="34.7" y2="570.50" stroke="#000" stroke-width="1.3"/><line x1="29.7" y1="487.50" x2="34.7" y2="487.50" stroke="#000" stroke-width="1.3"/><line x1="29.7" y1="404.50" x2="34.7" y2="404.50" stroke="#000" stroke-width="1.3"/><text x="25.5" y="617.0" font-size="14" text-anchor="end">0</text><text x="25.5" y="534.0" font-size="14" text-anchor="end">1</text><text x="25.5" y="451.0" font-size="14" text-anchor="end">2</text><text x="25.5" y="368.0" font-size="14" text-anchor="end">3</text><text x="24.6" y="348.6" font-size="12.4" text-anchor="start">DMRG</text><line x1="31.0" y1="408.4" x2="46.8" y2="408.4" stroke="#3d68d4" stroke-width="2.8"/><line x1="31.0" y1="524.1" x2="46.0" y2="524.1" stroke="#adadad" stroke-width="3" stroke-dasharray="3,3"/><line x1="30.2" y1="558.4" x2="49.4" y2="558.4" stroke="#0000ff" stroke-width="4.5" stroke-dasharray="4,3.6"/><g transform="translate(21.0,502.3) rotate(-90)"><text x="0" y="0" font-size="18.2">S<tspan font-family="Liberation Serif" font-style="italic" font-size="16" dx="-0.3">α</tspan></text></g><rect x="3.2" y="490.0" width="1.8" height="11" fill="#000"/><text x="30.2" y="639.6" font-size="15" text-anchor="start" font-style="italic">T=0</text><rect x="444.6" y="357.4" width="294.30" height="245.40" fill="none" stroke="#555" stroke-width="1.3"/><line x1="503.46" y1="602.8" x2="503.46" y2="595.3" stroke="#222" stroke-width="1.1"/><line x1="562.32" y1="602.8" x2="562.32" y2="595.3" stroke="#222" stroke-width="1.1"/><line x1="621.18" y1="602.8" x2="621.18" y2="595.3" stroke="#222" stroke-width="1.1"/><line x1="680.04" y1="602.8" x2="680.04" y2="595.3" stroke="#222" stroke-width="1.1"/><line x1="474.03" y1="602.8" x2="474.03" y2="598.3" stroke="#222" stroke-width="1.1"/><line x1="532.89" y1="602.8" x2="532.89" y2="598.3" stroke="#222" stroke-width="1.1"/><line x1="591.75" y1="602.8" x2="591.75" y2="598.3" stroke="#222" stroke-width="1.1"/><line x1="650.61" y1="602.8" x2="650.61" y2="598.3" stroke="#222" stroke-width="1.1"/><line x1="709.47" y1="602.8" x2="709.47" y2="598.3" stroke="#222" stroke-width="1.1"/><line x1="444.6" y1="521.00" x2="449.6" y2="521.00" stroke="#222" stroke-width="1.1"/><line x1="444.6" y1="439.20" x2="449.6" y2="439.20" stroke="#222" stroke-width="1.1"/><line x1="444.6" y1="561.90" x2="448.1" y2="561.90" stroke="#222" stroke-width="1.1"/><line x1="444.6" y1="480.10" x2="448.1" y2="480.10" stroke="#222" stroke-width="1.1"/><line x1="444.6" y1="398.30" x2="448.1" y2="398.30" stroke="#222" stroke-width="1.1"/><text x="444.6" y="624.8" font-size="15.6" text-anchor="middle">0.0</text><text x="503.5" y="624.8" font-size="15.6" text-anchor="middle">0.2</text><text x="562.3" y="624.8" font-size="15.6" text-anchor="middle">0.4</text><text x="621.2" y="624.8" font-size="15.6" text-anchor="middle">0.6</text><text x="680.0" y="624.8" font-size="15.6" text-anchor="middle">0.8</text><text x="738.9" y="624.8" font-size="15.6" text-anchor="middle">1.0</text><text x="436.3" y="608.3" font-size="15.6" text-anchor="end">0.03</text><text x="436.3" y="526.5" font-size="15.6" text-anchor="end">0.06</text><text x="436.3" y="444.7" font-size="15.6" text-anchor="end">0.09</text><text x="436.3" y="362.9" font-size="15.6" text-anchor="end">0.12</text><polyline points="469.12,465.92 474.03,472.46 481.39,474.92 493.65,487.73 503.46,492.91 518.18,506.00 542.70,520.45 591.75,543.09 738.90,588.89" fill="none" stroke="#8b0000" stroke-width="2.0" stroke-linejoin="round"/><path d="M469.12,461.83L469.12,470.01M464.12,461.83L474.12,461.83M464.12,470.01L474.12,470.01" stroke="#8b0000" stroke-width="1.8" fill="none"/><path d="M474.03,469.74L474.03,475.19M469.03,469.74L479.03,469.74M469.03,475.19L479.03,475.19" stroke="#8b0000" stroke-width="1.8" fill="none"/><path d="M481.39,473.01L481.39,476.83M476.39,473.01L486.39,473.01M476.39,476.83L486.39,476.83" stroke="#8b0000" stroke-width="1.8" fill="none"/><path d="M493.65,485.82L493.65,489.64M488.65,485.82L498.65,485.82M488.65,489.64L498.65,489.64" stroke="#8b0000" stroke-width="1.8" fill="none"/><path d="M503.46,491.28L503.46,494.55M498.46,491.28L508.46,491.28M498.46,494.55L508.46,494.55" stroke="#8b0000" stroke-width="1.8" fill="none"/><path d="M518.18,504.64L518.18,507.37M513.18,504.64L523.18,504.64M513.18,507.37L523.18,507.37" stroke="#8b0000" stroke-width="1.8" fill="none"/><path d="M542.70,519.09L542.70,521.82M537.70,519.09L547.70,519.09M537.70,521.82L547.70,521.82" stroke="#8b0000" stroke-width="1.8" fill="none"/><path d="M591.75,541.99L591.75,544.18M586.75,541.99L596.75,541.99M586.75,544.18L596.75,544.18" stroke="#8b0000" stroke-width="1.8" fill="none"/><path d="M738.90,588.08L738.90,589.71M733.90,588.08L743.90,588.08M733.90,589.71L743.90,589.71" stroke="#8b0000" stroke-width="1.8" fill="none"/><path d="M465.38,462.17L472.88,469.67M465.38,469.67L472.88,462.17" stroke="#8b0000" stroke-width="2" fill="none"/><path d="M470.28,468.71L477.78,476.21M470.28,476.21L477.78,468.71" stroke="#8b0000" stroke-width="2" fill="none"/><path d="M477.64,471.17L485.14,478.67M477.64,478.67L485.14,471.17" stroke="#8b0000" stroke-width="2" fill="none"/><path d="M489.90,483.98L497.40,491.48M489.90,491.48L497.40,483.98" stroke="#8b0000" stroke-width="2" fill="none"/><path d="M499.71,489.16L507.21,496.66M499.71,496.66L507.21,489.16" stroke="#8b0000" stroke-width="2" fill="none"/><path d="M514.43,502.25L521.93,509.75M514.43,509.75L521.93,502.25" stroke="#8b0000" stroke-width="2" fill="none"/><path d="M538.95,516.70L546.45,524.20M538.95,524.20L546.45,516.70" stroke="#8b0000" stroke-width="2" fill="none"/><path d="M588.00,539.34L595.50,546.84M588.00,546.84L595.50,539.34" stroke="#8b0000" stroke-width="2" fill="none"/><path d="M735.15,585.14L742.65,592.64M735.15,592.64L742.65,585.14" stroke="#8b0000" stroke-width="2" fill="none"/><polyline points="493.65,423.38 503.46,438.38 518.18,458.83 542.70,482.83 591.75,511.46 738.90,562.44" fill="none" stroke="#ff0000" stroke-width="2.0" stroke-linejoin="round"/><circle cx="493.65" cy="423.38" r="4.25" fill="#ff0000"/><circle cx="503.46" cy="438.38" r="4.25" fill="#ff0000"/><circle cx="518.18" cy="458.83" r="4.25" fill="#ff0000"/><circle cx="542.70" cy="482.83" r="4.25" fill="#ff0000"/><circle cx="591.75" cy="511.46" r="4.25" fill="#ff0000"/><circle cx="738.90" cy="562.44" r="4.25" fill="#ff0000"/><polyline points="503.46,408.93 518.18,436.47 542.70,463.47 591.75,491.01 738.90,536.54" fill="none" stroke="#8c8c00" stroke-width="2.0" stroke-linejoin="round"/><path d="M503.46,396.39L503.46,422.02M498.46,396.39L508.46,396.39M498.46,422.02L508.46,422.02" stroke="#8c8c00" stroke-width="1.8" fill="none"/><path d="M518.18,434.29L518.18,438.65M513.18,434.29L523.18,434.29M513.18,438.65L523.18,438.65" stroke="#8c8c00" stroke-width="1.8" fill="none"/><path d="M542.70,462.10L542.70,464.83M537.70,462.10L547.70,462.10M537.70,464.83L547.70,464.83" stroke="#8c8c00" stroke-width="1.8" fill="none"/><path d="M503.46,403.53 L508.46,412.53 L498.46,412.53Z" fill="#8c8c00"/><path d="M518.18,431.07 L523.18,440.07 L513.18,440.07Z" fill="#8c8c00"/><path d="M542.70,458.07 L547.70,467.07 L537.70,467.07Z" fill="#8c8c00"/><path d="M591.75,485.61 L596.75,494.61 L586.75,494.61Z" fill="#8c8c00"/><path d="M738.90,531.14 L743.90,540.14 L733.90,540.14Z" fill="#8c8c00"/><polyline points="493.65,439.47 503.46,449.83 518.18,467.56 542.70,484.19 591.75,512.27 738.90,563.26" fill="none" stroke="#008c00" stroke-width="2.0" stroke-linejoin="round" stroke-dasharray="6,3"/><path d="M493.65,443.36 L497.25,436.88 L490.05,436.88Z" fill="#fff" stroke="#008c00" stroke-width="1.8"/><path d="M503.46,453.72 L507.06,447.24 L499.86,447.24Z" fill="#fff" stroke="#008c00" stroke-width="1.8"/><path d="M518.18,471.44 L521.78,464.96 L514.58,464.96Z" fill="#fff" stroke="#008c00" stroke-width="1.8"/><path d="M542.70,488.08 L546.30,481.60 L539.10,481.60Z" fill="#fff" stroke="#008c00" stroke-width="1.8"/><path d="M591.75,516.16 L595.35,509.68 L588.15,509.68Z" fill="#fff" stroke="#008c00" stroke-width="1.8"/><path d="M738.90,567.15 L742.50,560.67 L735.30,560.67Z" fill="#fff" stroke="#008c00" stroke-width="1.8"/><polyline points="493.65,431.56 503.46,440.29 518.18,460.47 542.70,483.64 591.75,512.27 738.90,563.26" fill="none" stroke="#008080" stroke-width="2.0" stroke-linejoin="round" stroke-dasharray="6,3"/><path d="M493.65,425.56L493.65,444.65M488.65,425.56L498.65,425.56M488.65,444.65L498.65,444.65" stroke="#008080" stroke-width="1.8" fill="none"/><path d="M503.46,435.11L503.46,447.38M498.46,435.11L508.46,435.11M498.46,447.38L508.46,447.38" stroke="#008080" stroke-width="1.8" fill="none"/><path d="M518.18,456.92L518.18,466.46M513.18,456.92L523.18,456.92M513.18,466.46L523.18,466.46" stroke="#008080" stroke-width="1.8" fill="none"/><rect x="490.30" y="428.21" width="6.70" height="6.70" fill="#fff" stroke="#008080" stroke-width="1.8"/><rect x="500.11" y="436.94" width="6.70" height="6.70" fill="#fff" stroke="#008080" stroke-width="1.8"/><rect x="514.83" y="457.12" width="6.70" height="6.70" fill="#fff" stroke="#008080" stroke-width="1.8"/><rect x="539.35" y="480.29" width="6.70" height="6.70" fill="#fff" stroke="#008080" stroke-width="1.8"/><rect x="588.40" y="508.92" width="6.70" height="6.70" fill="#fff" stroke="#008080" stroke-width="1.8"/><rect x="735.55" y="559.91" width="6.70" height="6.70" fill="#fff" stroke="#008080" stroke-width="1.8"/><text x="459.7" y="376.7" font-size="15.8"><tspan font-family="Liberation Serif" font-style="italic" font-size="17" dy="0.5">δ</tspan><tspan font-size="10" dy="-0.5"> </tspan>=0.18</text><text x="519.0" y="376.7" font-size="15.8" font-style="italic">V</text><text transform="translate(528.30,381.90) scale(0.9,1)" font-size="10.7" font-style="italic">0</text><text x="534.6" y="376.7" font-size="15.8">=6</text><text x="585.6" y="382.6" font-size="15.4" text-anchor="start"><tspan font-style="italic">s</tspan>-wave</text><line x1="587.9" y1="399.5" x2="624.0" y2="399.5" stroke="#8b0000" stroke-width="2"/><path d="M602.25,395.75L609.75,403.25M602.25,403.25L609.75,395.75" stroke="#8b0000" stroke-width="1.8" fill="none"/><text x="633.5" y="404.9" font-size="15.4"><tspan font-style="italic">U/t</tspan>=3.0</text><text x="692.1" y="404.9" font-size="15.4"><tspan font-style="italic">L</tspan>=12</text><line x1="587.9" y1="418.2" x2="624.0" y2="418.2" stroke="#ff0000" stroke-width="2"/><circle cx="606.00" cy="418.20" r="4.30" fill="#ff0000"/><text x="633.5" y="423.6" font-size="15.4"><tspan font-style="italic">U/t</tspan>=4.0</text><text x="692.1" y="423.6" font-size="15.4"><tspan font-style="italic">L</tspan>=12</text><line x1="587.9" y1="436.9" x2="624.0" y2="436.9" stroke="#8c8c00" stroke-width="2"/><path d="M606.00,431.93 L610.60,440.21 L601.40,440.21Z" fill="#8c8c00"/><text x="633.5" y="442.3" font-size="15.4"><tspan font-style="italic">U/t</tspan>=5.0</text><text x="692.1" y="442.3" font-size="15.4"><tspan font-style="italic">L</tspan>=12</text><line x1="587.9" y1="455.6" x2="606.0" y2="455.6" stroke="#008c00" stroke-width="2" stroke-dasharray="6.2,2.6"/><line x1="624.0" y1="455.6" x2="606.0" y2="455.6" stroke="#008c00" stroke-width="2" stroke-dasharray="6.2,2.6"/><path d="M606.00,459.27 L609.40,453.15 L602.60,453.15Z" fill="#fff" stroke="#008c00" stroke-width="1.8"/><text x="633.5" y="461.0" font-size="15.4"><tspan font-style="italic">U/t</tspan>=4.0</text><text x="692.1" y="461.0" font-size="15.4"><tspan font-style="italic">L</tspan>=9</text><line x1="587.9" y1="474.3" x2="606.0" y2="474.3" stroke="#008080" stroke-width="2" stroke-dasharray="6.2,2.6"/><line x1="624.0" y1="474.3" x2="606.0" y2="474.3" stroke="#008080" stroke-width="2" stroke-dasharray="6.2,2.6"/><rect x="602.90" y="471.20" width="6.20" height="6.20" fill="#fff" stroke="#008080" stroke-width="1.8"/><text x="633.5" y="479.7" font-size="15.4"><tspan font-style="italic">U/t</tspan>=4.0</text><text x="692.1" y="479.7" font-size="15.4"><tspan font-style="italic">L</tspan>=15</text><g transform="translate(403.4,494.5) rotate(-90)"><text x="0" y="0" font-size="18"><tspan font-style="italic">P</tspan><tspan font-family="Liberation Serif" font-style="italic" font-size="18" dx="-0.8">α</tspan></text></g><rect x="385.4" y="482.1" width="1.8" height="10.8" fill="#000"/><text x="585.6" y="649.0" font-size="17.5" text-anchor="start" font-style="italic">T</text><text x="390.5" y="345.5" font-size="21" text-anchor="start" font-weight="bold">d</text>
</svg></body></html>
